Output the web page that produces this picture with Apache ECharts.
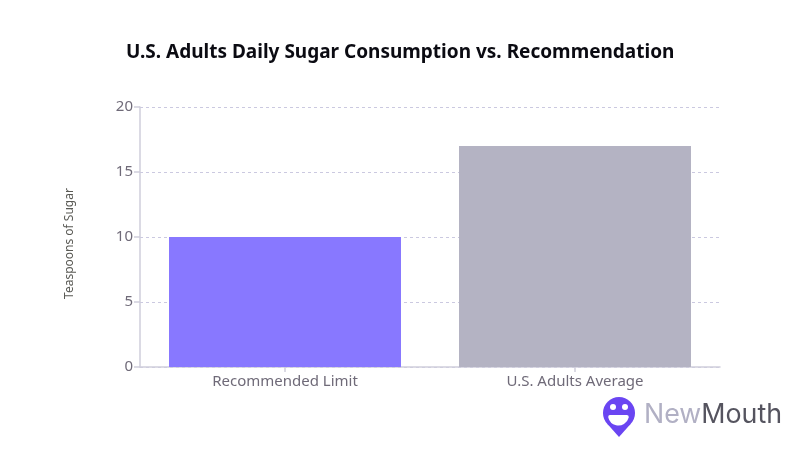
<!DOCTYPE html>
<html lang="en">
<head>
    <meta charset="UTF-8">
    <title>Sugar consumption</title>
    <script src="https://cdn.jsdelivr.net/npm/echarts@6/dist/echarts.min.js"></script>
    <style>
        html, body { margin: 0; padding: 0; background: #fff; }
    </style>
</head>
<body>
<div id="demo" style="width: 800px;height: 470px;"></div>
<script>
    var categories = ['Recommended Limit', 'U.S. Adults Average'];
    var teaspoons = [10, 17];
    var barColors = ['#8878ff', '#b4b3c3'];
    var yTicks = { min: 0, max: 20, interval: 5 };

    var font = '"Noto Sans", "Open Sans", sans-serif';
    var myChart = echarts.init(document.getElementById('demo'));
    var option = {
        animation: false,
        backgroundColor: '#fff',
        title: {
            text: 'U.S. Adults Daily Sugar Consumption vs. Recommendation',
            left: 121,
            top: 38,
            textStyle: { fontFamily: font, fontSize: 19, fontWeight: 'bold', color: '#0b0b12' }
        },
        grid: { left: 140, right: 80, top: 107, bottom: 103 },
        xAxis: {
            type: 'category',
            data: categories,
            axisLine: { lineStyle: { color: '#cfcedb', width: 1.5 } },
            axisTick: { show: true, alignWithLabel: true, length: 5, lineStyle: { color: '#cfcedb', width: 1.5 } },
            axisLabel: { fontFamily: font, fontSize: 15, color: '#6f6a78', margin: 7 }
        },
        yAxis: {
            type: 'value',
            min: yTicks.min,
            max: yTicks.max,
            interval: yTicks.interval,
            name: 'Teaspoons of Sugar',
            nameLocation: 'middle',
            nameGap: 64,
            nameTextStyle: { fontFamily: font, fontSize: 12, color: '#5a5a55', padding: [0, 13, 0, 0] },
            axisLine: { show: true, lineStyle: { color: '#cfcedb', width: 1.5 } },
            axisTick: { show: true, length: 6, lineStyle: { color: '#cfcedb', width: 1.5 } },
            axisLabel: { fontFamily: font, fontSize: 15, color: '#6f6a78', margin: 7, lineHeight: 20, padding: [3, 0, 0, 0] },
            splitLine: { show: true, lineStyle: { color: '#cbc9e0', type: [3, 3], width: 1 } }
        },
        series: [
            {
                type: 'bar',
                barWidth: '80%',
                data: teaspoons.map(function (v, i) {
                    return { value: v, itemStyle: { color: barColors[i] } };
                })
            }
        ],
        graphic: [
            // NewMouth logo, bottom right
            { type: 'circle', shape: { cx: 619, cy: 413, r: 16 }, style: { fill: '#6a45f2' } },
            { type: 'polygon', shape: { points: [[607, 423.5], [631, 423.5], [619, 437]] }, style: { fill: '#6a45f2' } },
            { type: 'circle', shape: { cx: 613, cy: 407, r: 3 }, style: { fill: '#fff' } },
            { type: 'circle', shape: { cx: 625, cy: 407, r: 3 }, style: { fill: '#fff' } },
            { type: 'sector', shape: { cx: 618.5, cy: 415, r: 10.5, cornerRadius: 2, startAngle: 0, endAngle: Math.PI }, style: { fill: '#fff' } },
            {
                type: 'text',
                left: 644,
                top: 401,
                style: {
                    text: '{a|New}{b|Mouth}',
                    rich: {
                        a: { fontFamily: 'Inter, sans-serif', fontSize: 26.8, fill: '#b1b0c4' },
                        b: { fontFamily: 'Inter, sans-serif', fontSize: 26.8, fill: '#55545f' }
                    }
                }
            }
        ]
    };
    myChart.setOption(option);
</script>
</body>
</html>
